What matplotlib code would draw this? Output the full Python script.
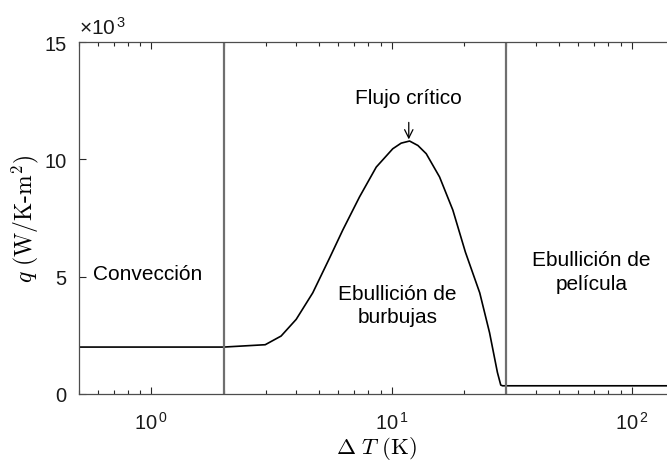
import numpy as np
import matplotlib
matplotlib.use("Agg")
import matplotlib.pyplot as plt
from matplotlib.ticker import FuncFormatter, LogLocator, NullFormatter

# data
dT = [0.5, 2.0, 2.98, 3.47, 4.01, 4.70, 5.52, 6.27, 7.36, 8.64, 10.12,
      10.97, 11.89, 12.88, 13.95, 15.85, 18.0, 20.3, 23.3, 25.6, 27.6, 28.5, 29.0, 150.0]
q = [2000, 2000, 2100, 2470, 3180, 4310, 5790, 6990, 8400, 9670, 10450,
     10690, 10780, 10590, 10240, 9250, 7840, 6050, 4310, 2610, 920, 380, 350, 350]
region_lines = [2.0, 30.0]
yticks = [0, 5000, 10000, 15000]
ytick_labels = ["0", "5", "10", "15"]

plt.rcParams['font.family'] = ['Liberation Sans', 'DejaVu Sans']
plt.rcParams['mathtext.fontset'] = 'custom'
plt.rcParams['mathtext.rm'] = 'Liberation Sans'
plt.rcParams['mathtext.it'] = 'Liberation Sans:italic'
plt.rcParams['mathtext.bf'] = 'Liberation Sans:bold'

fig = plt.figure(figsize=(6.67, 4.64), dpi=100)
ax = fig.add_axes([79/667, 1-395/464, 595/667, (395-43)/464])

ax.plot(dT, q, color='black', lw=1.2)
for xv in region_lines:
    ax.axvline(xv, color='#6f6f6f', lw=1.6)

ax.set_xscale('log')
ax.set_xlim(0.5, 150)
ax.set_ylim(0, 15000)
ax.set_yticks(yticks)
ax.set_yticklabels(ytick_labels)

ax.xaxis.set_major_locator(LogLocator(base=10, numticks=10))
ax.xaxis.set_minor_locator(LogLocator(base=10, subs=np.arange(2, 10), numticks=20))
ax.xaxis.set_minor_formatter(NullFormatter())
ax.xaxis.set_major_formatter(FuncFormatter(lambda v, p: r"$10^{\,%d}$" % int(round(np.log10(v)))))

ax.tick_params(which='both', direction='in', top=True, right=True, colors='#262626',
               labelsize=14.5, labelcolor='#1a1a1a')
ax.tick_params(which='major', length=5, width=0.8)
ax.tick_params(axis='x', which='major', pad=12)
ax.tick_params(axis='y', which='major', pad=9)
ax.tick_params(which='minor', length=3, width=0.8)
for s in ax.spines.values():
    s.set_color('#4d4d4d')
    s.set_linewidth(0.9)

for lbl in ax.get_xticklabels():
    lbl.set_math_fontfamily('custom')

ax.set_xlabel(r"$\Delta\ T\ (\mathrm{K})$", fontsize=16.5, math_fontfamily='cm', labelpad=1)
ax.set_ylabel(r"$q\ (\mathrm{W/K\text{-}m}^2)$", fontsize=17, math_fontfamily='cm', labelpad=2)

ax.text(0.0, 1.012, r"$\times10^{\,3}$", transform=ax.transAxes, fontsize=15,
        ha='left', va='bottom', math_fontfamily='custom', color='#1a1a1a')

ax.text(0.57, 5150, "Convección", fontsize=15, ha='left', va='center')
ax.text(10.6, 3800, "Ebullición de\nburbujas", fontsize=15, ha='center', va='center',
        linespacing=1.3)
ax.text(68, 5210, "Ebullición de\npelícula", fontsize=15, ha='center', va='center',
        linespacing=1.3)
ax.annotate("Flujo crítico", xy=(11.8, 10850), xytext=(11.8, 12630),
            fontsize=15, ha='center', va='center',
            arrowprops=dict(arrowstyle='->', color='black', lw=0.9, shrinkA=9, shrinkB=0))

fig.savefig("out.png", dpi=100)
